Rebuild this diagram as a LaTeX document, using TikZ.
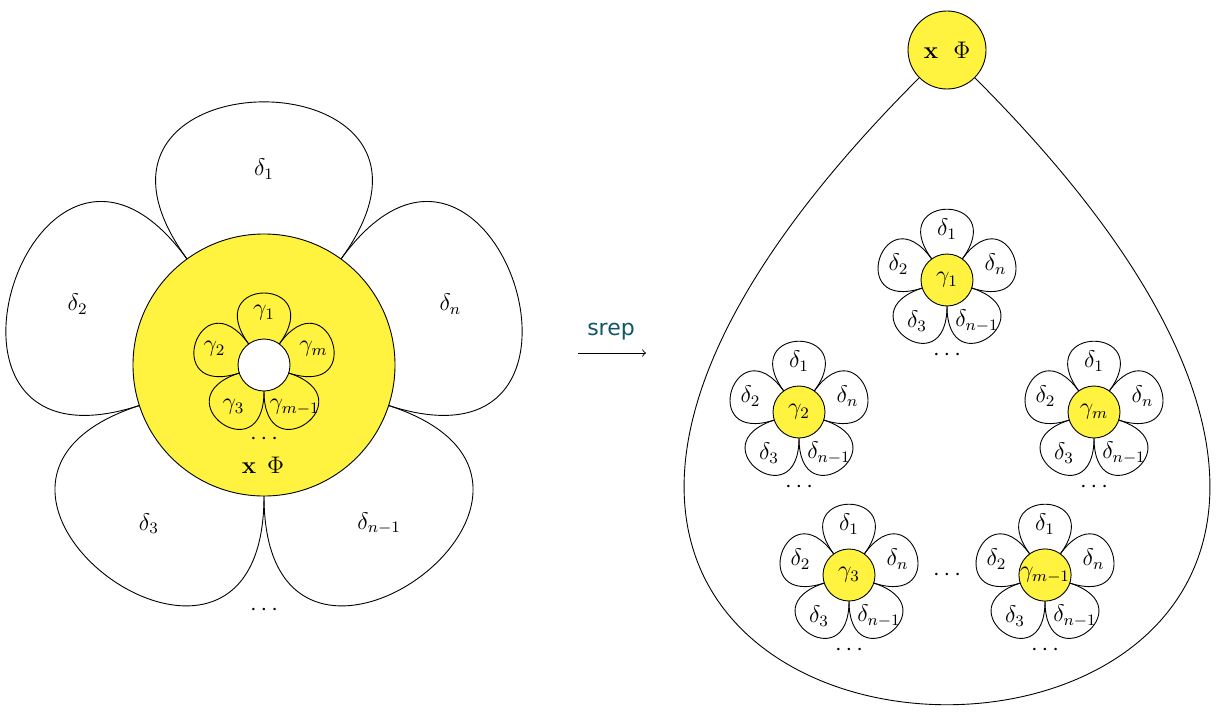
\documentclass[tikz,border=0pt]{standalone}
\usepackage[no-math]{fontspec}
\newfontfamily\srepfont{DejaVu Sans}
\definecolor{flowery}{HTML}{FFF33F}
\definecolor{srepcol}{RGB}{16,86,104}
\tikzset{
  petal/.style={draw=black, line width=0.45pt},
  lab/.style={inner sep=0pt, font=\large},
  core/.style={circle, draw=black, fill=flowery, inner sep=0pt, line width=0.45pt, font=\large},
  hole/.style={circle, draw=black, fill=white, inner sep=0pt, line width=0.45pt},
}
\newcommand\smallflower[4]{%
  \begin{scope}[shift={(#1,#2)}]
    \foreach \a/\t [count=\i] in {90/\delta_1,162/\delta_2,234/\delta_3,306/\delta_{n-1},18/\delta_n}{
      \draw[petal] (\a-36:26) .. controls (\a-36:108) and (\a+36:108) .. (\a+36:26);
      \node[lab] (#3d\i) at (\a:51) {$\t$};
    }
    \node[core, minimum size=26pt] (#3) at (0,0) {$#4$};
    \node[lab] (#3dots) at (0,-75) {$\cdots$};
  \end{scope}}
\begin{document}
\begin{tikzpicture}[x=0.5pt,y=0.5pt]
\path[use as bounding box] (0,0) rectangle (1218,-717);
% ---------- left big flower ----------
\begin{scope}[shift={(264,-365)}]
  \foreach \a/\t [count=\i] in {90/\delta_1,162/\delta_2,234/\delta_3,306/\delta_{n-1},18/\delta_n}{
    \draw[petal] (\a-36:131) .. controls (\a-36:390) and (\a+36:390) .. (\a+36:131);
    \node[lab] (Bd\i) at (\a:196) {$\t$};
  }
  \node[lab] (Bdots) at (0,-245) {$\cdots$};
  \node[core, minimum size=131pt] (big) at (0,0) {};
  \foreach \a/\t [count=\i] in {90/\gamma_1,162/\gamma_2,234/\gamma_3,306/\gamma_{m-1},18/\gamma_m}{
    \draw[petal] (\a-36:26) .. controls (\a-36:110) and (\a+36:110) .. (\a+36:26);
    \node[lab] (Bg\i) at (\a:52) {$\t$};
  }
  \node[hole, minimum size=26pt] (hole) at (0,0) {};
  \node[lab] (Bgdots) at (0,-74) {$\cdots$};
  \node[lab] (Bxphi) at (-1,-100) {$\mathbf{x}\hspace{5.4pt}\Phi$};
\end{scope}
% ---------- arrow ----------
\coordinate (arrS) at (578,-353);
\coordinate (arrE) at (646,-353);
\draw[line width=0.45pt, ->] (arrS) -- (arrE);
\node[inner sep=0pt, text=srepcol, font=\srepfont\fontsize{11}{13}\selectfont] (srep) at (611,-332) {srep};
% ---------- right side ----------
\node[core, minimum size=39pt] (top) at (947,-50) {$\mathbf{x}\hspace{7.6pt}\Phi$};
\draw[petal] (top.225) .. controls +(225:1182) and +(315:1182) .. (top.315);
\smallflower{947}{-280}{g1}{\gamma_1}
\smallflower{799}{-412}{g2}{\gamma_2}
\smallflower{1094}{-412}{gm}{\gamma_m}
\smallflower{849}{-575}{g3}{\gamma_3}
\smallflower{1045}{-575}{gmm}{\gamma_{m-1}}
\node[lab] (rdots) at (947,-575) {$\cdots$};
\end{tikzpicture}
\end{document}
